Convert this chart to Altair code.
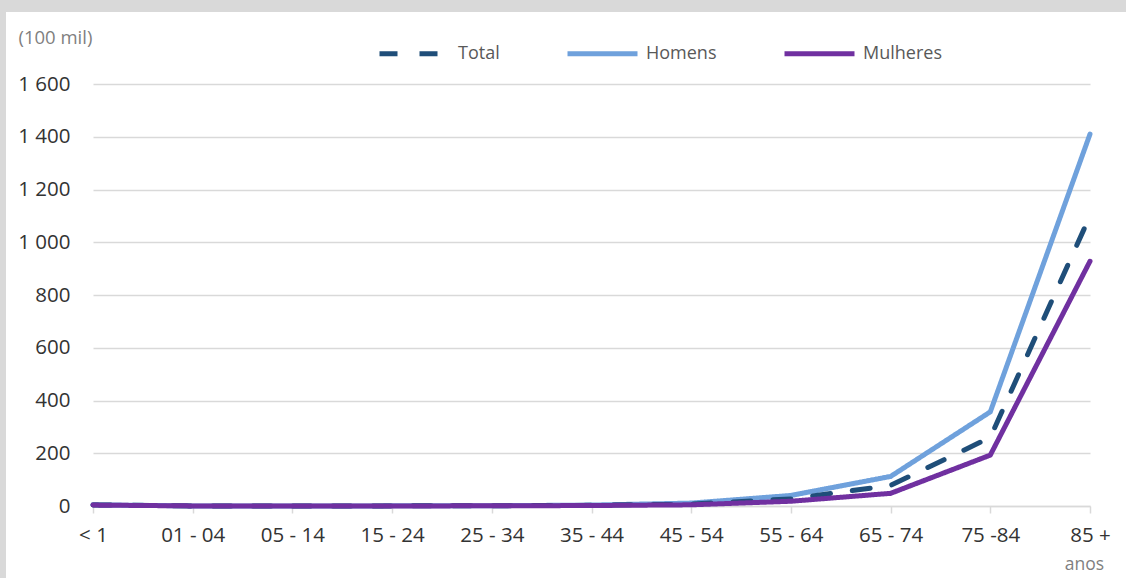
import altair as alt
import pandas as pd

categories = ["< 1", "01 - 04", "05 - 14", "15 - 24", "25 - 34", "35 - 44",
              "45 - 54", "55 - 64", "65 - 74", "75 -84", "85 +"]
total = [4, 0.3, 0.2, 0.4, 0.8, 2.5, 7, 27, 78, 260, 1100]
homens = [4.5, 0.3, 0.2, 0.5, 1.0, 3.5, 11, 40, 112, 357, 1410]
mulheres = [3.5, 0.3, 0.2, 0.3, 0.6, 1.8, 4.5, 18, 48, 193, 928]

series_names = ["Total", "Homens", "Mulheres"]
series_colors = ["#1f4e79", "#6fa1dc", "#7030a0"]
series_dash = [[18, 22], [1, 0], [1, 0]]

rows = []
for name, vals in zip(series_names, [total, homens, mulheres]):
    for c, v in zip(categories, vals):
        rows.append({"faixa": c, "valor": v, "serie": name})
df = pd.DataFrame(rows)

FONT = "Open Sans"
W, H = 997, 422

legend_opts = dict(title=None, orient="none", direction="horizontal",
                   legendX=284, legendY=-68,
                   symbolType="stroke", symbolSize=4900,
                   symbolStrokeWidth=5, labelFontSize=18,
                   labelColor="#595959", labelOffset=6,
                   columnPadding=57)

base = alt.Chart(df).encode(
    x=alt.X("faixa:N", sort=categories, scale=alt.Scale(type="point", padding=0),
            axis=alt.Axis(title="anos", titleX=991, titleY=58, titleAlign="center",
                          titleBaseline="middle", titleFontSize=17.5,
                          titleFontWeight="normal", titleColor="#7f7f7f",
                          labelAngle=0, labelFontSize=20.5, labelColor="#333333",
                          labelPadding=12, tickColor="#d9d9d9", tickSize=7,
                          tickWidth=1.5, domainColor="#d9d9d9", domainWidth=1.5,
                          grid=False)),
    y=alt.Y("valor:Q", scale=alt.Scale(domain=[0, 1600], nice=False),
            axis=alt.Axis(title="(100 mil)", titleAngle=0, titleX=-75, titleY=-47,
                          titleAlign="left", titleBaseline="middle",
                          titleFontSize=18.5, titleFontWeight="normal",
                          titleColor="#7f7f7f",
                          values=[0, 200, 400, 600, 800, 1000, 1200, 1400, 1600],
                          labelExpr="replace(format(datum.value, ','), ',', ' ')",
                          labelFontSize=20.5, labelColor="#333333", labelPadding=23,
                          ticks=False, domain=False, gridColor="#d9d9d9",
                          gridWidth=1.5)),
    color=alt.Color("serie:N", scale=alt.Scale(domain=series_names, range=series_colors),
                    legend=alt.Legend(**legend_opts)),
    strokeDash=alt.StrokeDash("serie:N", scale=alt.Scale(domain=series_names, range=series_dash),
                              legend=alt.Legend(**legend_opts)),
)

def line_for(name):
    return base.transform_filter(alt.datum.serie == name).mark_line(
        strokeWidth=5, strokeCap="round", strokeJoin="miter")

border_top = alt.Chart(df).mark_rect(color="#d9d9d9").encode(
    x=alt.value(-93), x2=alt.value(1033), y=alt.value(-84), y2=alt.value(-72))
border_left = alt.Chart(df).mark_rect(color="#d9d9d9").encode(
    x=alt.value(-93), x2=alt.value(-87), y=alt.value(-84), y2=alt.value(494))

chart = alt.layer(
    border_top, border_left,
    line_for("Homens"), line_for("Total"), line_for("Mulheres"),
).properties(
    width=W, height=H,
    autosize=alt.AutoSizeParams(type="none"),
    padding={"left": 93, "top": 84, "right": 36, "bottom": 72},
    background="white",
).configure(font=FONT).configure_view(stroke=None, clip=False)

chart.save("out.html", embed_options={"renderer": "svg", "actions": False})
